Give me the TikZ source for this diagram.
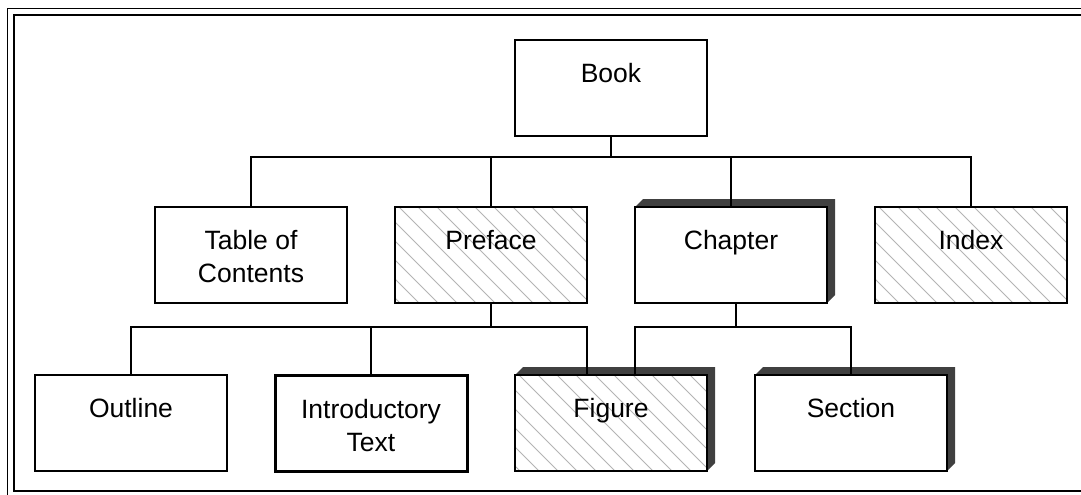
\documentclass[tikz,border=0pt]{standalone}
\usepackage{fontspec}
\setmainfont{Liberation Sans}
\usetikzlibrary{backgrounds}
\definecolor{shadowc}{HTML}{404040}
\definecolor{hatchc}{HTML}{B4B4B4}
\tikzset{
  box/.style={draw=black, line width=1.7pt, fill=white, minimum width=192pt, minimum height=96pt, inner sep=0pt, outer sep=0pt},
  thickbox/.style={box, line width=3pt},
  hatched/.style={path picture={
      \foreach \k in {-110,-91,...,200}
        \draw[hatchc, line width=0.8pt] ([xshift=\k pt]path picture bounding box.north west) -- ++(130,130);}},
  lbl/.style={anchor=base, align=center, inner sep=0pt, font=\fontsize{26.5}{33}\selectfont},
  conn/.style={draw=black, line width=1.7pt},
  frame/.style={draw=black, line width=1.9pt}
}
\newcommand{\boxshadow}[1]{%
  \fill[shadowc] (#1.north west) -- ([shift={(8,-8)}]#1.north west) -- ([shift={(8,-8)}]#1.north east)
    -- ([shift={(8,-8)}]#1.south east) -- (#1.south east) -- cycle;}
\begin{document}
\begin{tikzpicture}[x=1pt, y=-1pt]
\useasboundingbox (0,0) rectangle (1081,495);
% frame
\draw[frame] (1090,8.5) -- (7.5,8.5) -- (7.5,500);
\draw[frame] (1090,15) -- (14,15) -- (14,491) -- (1090,491);
% boxes
\node[box] (book) at (611,88) {};
\node[box] (toc) at (251,255) {};
\node[box, hatched] (preface) at (491,255) {};
\node[box] (chapter) at (731,255) {};
\node[box, hatched] (index) at (971,255) {};
\node[box] (outline) at (131,423) {};
\node[thickbox] (intro) at (371,423) {};
\node[box, hatched] (figure) at (611,423) {};
\node[box] (section) at (851,423) {};
\begin{scope}[on background layer]
  \boxshadow{chapter}
  \boxshadow{figure}
  \boxshadow{section}
\end{scope}
% labels (base anchor = baseline of last line)
\node[lbl] (bookt) at ([yshift=-42.5pt]book.north) {Book};
\node[lbl] (toct) at ([yshift=-75pt]toc.north) {Table of\\Contents};
\node[lbl] (prefacet) at ([yshift=-42.5pt]preface.north) {Preface};
\node[lbl] (chaptert) at ([yshift=-42.5pt]chapter.north) {Chapter};
\node[lbl] (indext) at ([yshift=-42.5pt]index.north) {Index};
\node[lbl] (outlinet) at ([yshift=-42.5pt]outline.north) {Outline};
\node[lbl] (introt) at ([yshift=-76pt]intro.north) {Introductory\\Text};
\node[lbl] (figuret) at ([yshift=-42.5pt]figure.north) {Figure};
\node[lbl] (sectiont) at ([yshift=-42.5pt]section.north) {Section};
% buses
\coordinate (b1) at (0,157);
\coordinate (b2) at (0,327);
\draw[conn] (book.south) -- (book.south |- b1);
\draw[conn] (toc.north) -- (toc.north |- b1) -- (index.north |- b1) -- (index.north);
\draw[conn] (preface.north) -- (preface.north |- b1);
\draw[conn] (chapter.north) -- (chapter.north |- b1);
\draw[conn] (preface.south) -- (preface.south |- b2);
\draw[conn] (outline.north) -- (outline.north |- b2) -- ([xshift=-24pt]figure.north |- b2) -- ([xshift=-24pt]figure.north);
\draw[conn] (intro.north) -- (intro.north |- b2);
\draw[conn] ([xshift=5pt]chapter.south) -- ([xshift=5pt]chapter.south |- b2);
\draw[conn] ([xshift=24pt]figure.north) -- ([xshift=24pt]figure.north |- b2) -- (section.north |- b2) -- (section.north);
\end{tikzpicture}
\end{document}
